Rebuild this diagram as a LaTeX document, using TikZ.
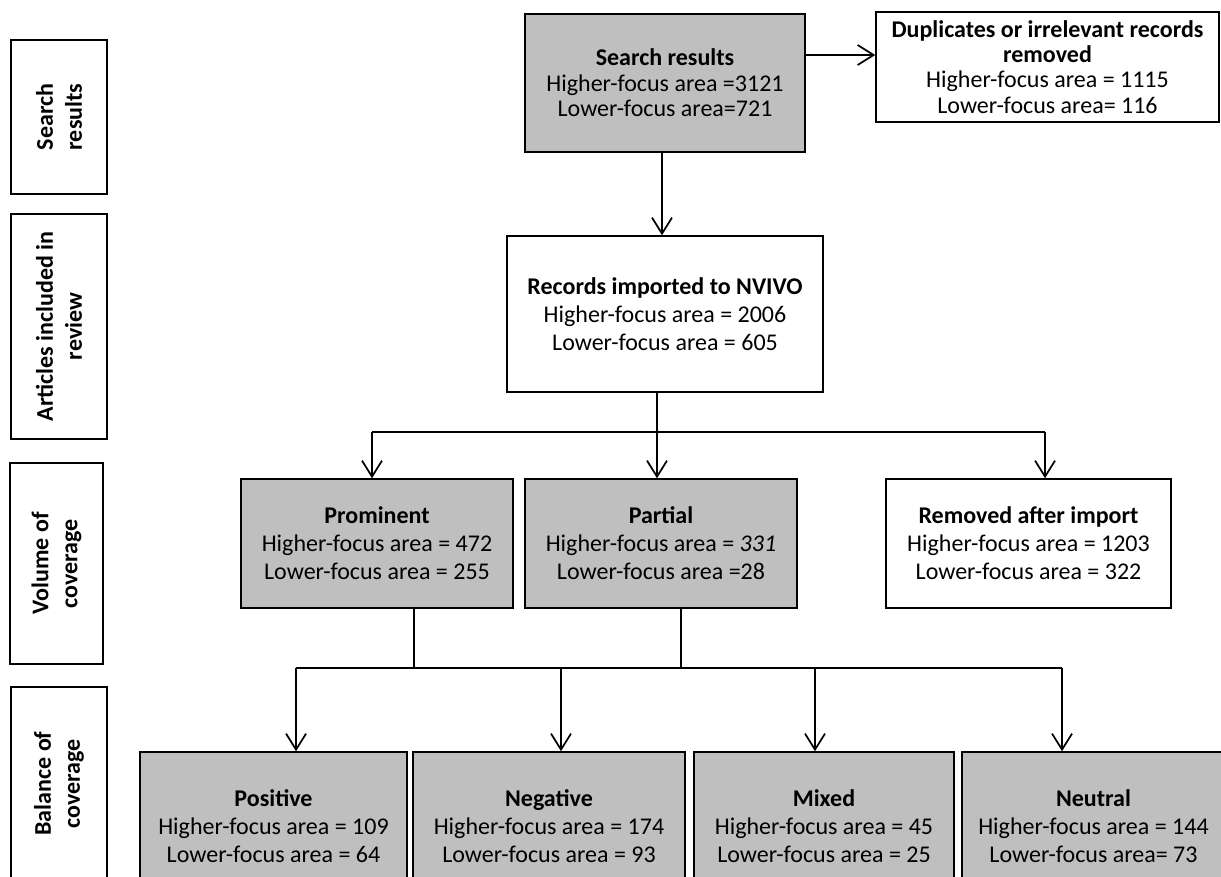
\documentclass[tikz,border=0pt]{standalone}
\usepackage{fontspec}
\setmainfont{Carlito}
\usetikzlibrary{arrows.meta}
\definecolor{boxgrey}{HTML}{BFBFBF}

\begin{document}
\begin{tikzpicture}[x=0.75pt, y=-0.75pt, line width=1.3pt, line join=miter,
    >={Straight Barb[length=12pt,width=15pt]},
    whitebox/.style={draw, line width=1.1pt, fill=white, align=center, inner sep=0pt,
      font=\fontsize{18}{21}\selectfont},
    greybox/.style={whitebox, fill=boxgrey},
    toplines/.style={font=\fontsize{18}{19}\selectfont},
    sidelabel/.style={whitebox, rotate=90, font=\bfseries\fontsize{18}{21.75}\selectfont}]
    \path[use as bounding box] (0,0) rectangle (1221,877);
    \clip (0,0) rectangle (1221,877);

    % stage labels on the left
    \node[sidelabel, minimum width=115.5pt, minimum height=72pt] (lab1) at (59,117) {Search\\results};
    \node[sidelabel, minimum width=168.75pt, minimum height=72pt] (lab2) at (59,326.5) {Articles included in\\review};
    \node[sidelabel, minimum width=150.75pt, minimum height=69.75pt] (lab3) at (56.5,563.5) {Volume of\\coverage};
    \node[sidelabel, minimum width=144.75pt, minimum height=72pt] (lab4) at (59,783.5) {Balance of\\coverage};

    % search and import
    \node[greybox, toplines, minimum width=210pt, minimum height=103.5pt] (srch) at (665,83)
        {\textbf{Search results}\\Higher-focus area =3121\\Lower-focus area=721};
    \node[whitebox, toplines, minimum width=257.25pt, minimum height=82.5pt] (dupl) at (1047.5,67)
        {\textbf{Duplicates or irrelevant records}\\\textbf{removed}\\Higher-focus area = 1115\\Lower-focus area= 116};
    \node[whitebox, minimum width=237pt, minimum height=117pt] (recs) at (665,314)
        {\textbf{Records imported to NVIVO}\\Higher-focus area = 2006\\Lower-focus area = 605};

    % volume of coverage
    \node[greybox, minimum width=204pt, minimum height=96.75pt] (prom) at (377,543.5)
        {\textbf{Prominent}\\Higher-focus area = 472\\Lower-focus area = 255};
    \node[greybox, minimum width=204pt, minimum height=96.75pt] (part) at (661,543.5)
        {\textbf{Partial}\\Higher-focus area = \textit{331}\\Lower-focus area =28};
    \node[whitebox, minimum width=213.75pt, minimum height=96.75pt] (remv) at (1028.5,543.5)
        {\textbf{Removed after import}\\Higher-focus area = 1203\\Lower-focus area = 322};

    % balance of coverage
    \node[greybox, minimum width=200.25pt, minimum height=111pt] (posi) at (273.5,826)
        {\textbf{Positive}\\Higher-focus area = 109\\Lower-focus area = 64};
    \node[greybox, minimum width=204pt, minimum height=111pt] (nega) at (549,826)
        {\textbf{Negative}\\Higher-focus area = 174\\Lower-focus area = 93};
    \node[greybox, minimum width=195pt, minimum height=111pt] (mixd) at (824,826)
        {\textbf{Mixed}\\Higher-focus area = 45\\Lower-focus area = 25};
    \node[greybox, minimum width=197.25pt, minimum height=111pt] (neut) at (1093.5,826)
        {\textbf{Neutral}\\Higher-focus area = 144\\Lower-focus area= 73};

    % connectors
    \draw[->] ([yshift=21pt]srch.east) -- ([yshift=21pt]srch.east -| dupl.west);
    \draw[->] ([xshift=-2.25pt]srch.south) -- ([xshift=-2.25pt]recs.north);

    \coordinate (barA) at (657,432);
    \draw ([xshift=-6pt]recs.south) -- (barA);
    \draw ([xshift=-3.75pt]prom.north |- barA) -- ([xshift=12.4pt]remv.north |- barA);
    \draw[->] ([xshift=-3.75pt]prom.north |- barA) -- ([xshift=-3.75pt]prom.north);
    \draw[->] (barA) -- ([xshift=-3pt]part.north);
    \draw[->] ([xshift=12.4pt]remv.north |- barA) -- ([xshift=12.4pt]remv.north);

    \coordinate (barB) at (561,668);
    \draw ([xshift=27.75pt]prom.south) -- ([xshift=27.75pt]prom.south |- barB);
    \draw ([xshift=15pt]part.south) -- ([xshift=15pt]part.south |- barB);
    \draw ([xshift=16.9pt]posi.north |- barB) -- ([xshift=-23.6pt]neut.north |- barB);
    \draw[->] ([xshift=16.9pt]posi.north |- barB) -- ([xshift=16.9pt]posi.north);
    \draw[->] (barB) -- ([xshift=9pt]nega.north);
    \draw[->] ([xshift=-6.75pt]mixd.north |- barB) -- ([xshift=-6.75pt]mixd.north);
    \draw[->] ([xshift=-23.6pt]neut.north |- barB) -- ([xshift=-23.6pt]neut.north);
\end{tikzpicture}
\end{document}
